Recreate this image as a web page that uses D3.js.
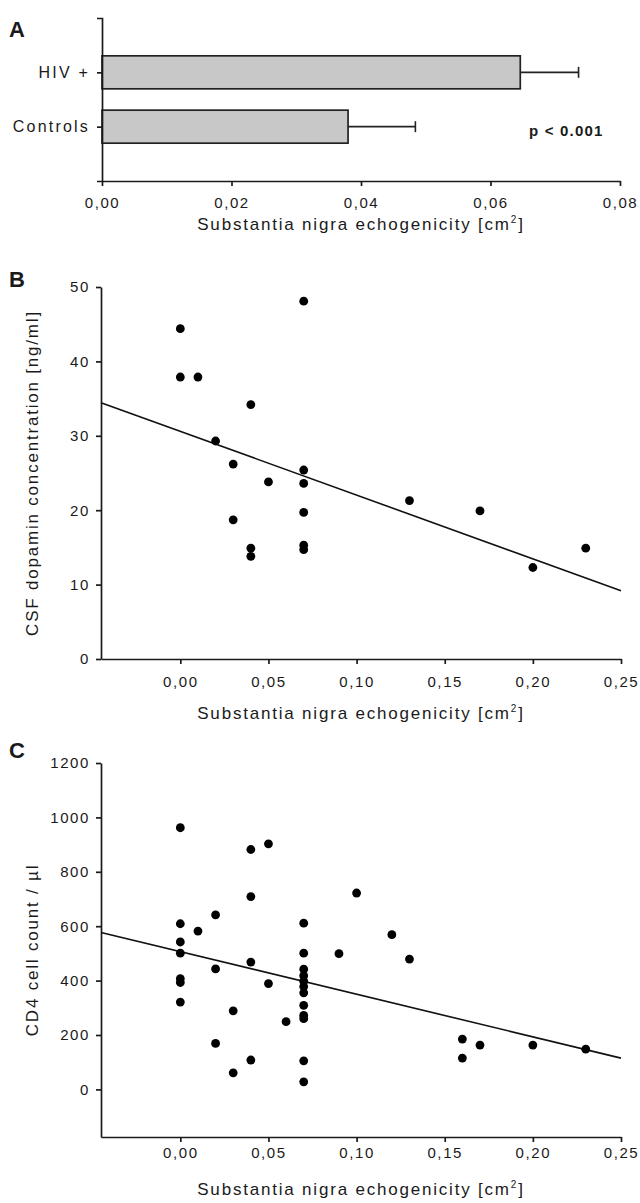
<!DOCTYPE html>
<meta charset="utf-8">
<script src="https://cdn.jsdelivr.net/npm/d3@7/dist/d3.min.js"></script>
<style type="text/css">
    body { margin: 0; background: #fff; }
    text { font-family: "Liberation Sans", Arial, sans-serif; fill: #1a1a1a; }
    .axis path, .axis line { fill: none; stroke: #1a1a1a; stroke-width: 1.7px; }
    .axis text { font-size: 15px; letter-spacing: 1.6px; }
    .title { font-size: 17px; letter-spacing: 1.8px; }
    .panel { font-size: 22px; font-weight: bold; }
</style>
<body>
<script>
    // panel A: group means with error bars
    var groups = ["HIV +", "Controls"];
    var groupMeans = [0.0646, 0.0380];
    var groupErrors = [0.0090, 0.0104];
    var ticksA = [0, 0.02, 0.04, 0.06, 0.08];

    // panel B: CSF dopamine vs echogenicity
    var dopaX = [0.00, 0.00, 0.01, 0.02, 0.03, 0.03, 0.04, 0.04, 0.04, 0.05,
                 0.07, 0.07, 0.07, 0.07, 0.07, 0.07, 0.13, 0.17, 0.20, 0.23];
    var dopaY = [44.4, 37.9, 37.9, 29.3, 26.2, 18.7, 34.2, 14.9, 13.8, 23.8,
                 48.1, 25.4, 23.6, 19.7, 15.3, 14.7, 21.3, 19.9, 12.3, 14.9];
    var dopaFit = {intercept: 30.6, slope: -85.7};
    var ticksBy = [0, 10, 20, 30, 40, 50];

    // panel C: CD4 count vs echogenicity
    var cd4X = [0.00, 0.00, 0.00, 0.00, 0.00, 0.00, 0.00, 0.01, 0.02, 0.02, 0.02,
                0.03, 0.03, 0.04, 0.04, 0.04, 0.04, 0.05, 0.05, 0.06,
                0.07, 0.07, 0.07, 0.07, 0.07, 0.07, 0.07, 0.07, 0.07, 0.07, 0.07, 0.07,
                0.09, 0.10, 0.12, 0.13, 0.16, 0.16, 0.17, 0.20, 0.23];
    var cd4Y = [962, 609, 542, 501, 407, 393, 321, 582, 642, 443, 169,
                289, 61, 882, 709, 468, 108, 903, 389, 249,
                611, 501, 442, 418, 398, 378, 355, 309, 272, 260, 105, 28,
                499, 722, 569, 479, 185, 115, 163, 163, 148];
    var cd4Fit = {intercept: 506.5, slope: -1566};
    var ticksCy = [0, 200, 400, 600, 800, 1000, 1200];

    var ticksX = [0, 0.05, 0.10, 0.15, 0.20, 0.25];
    var fmt = function(d) { return d3.format(".2f")(d).replace(".", ","); };

    var svg = d3.select("body").append("svg")
        .attr("width", 640)
        .attr("height", 1203);

    function xTitle(y) {
        var t = svg.append("text")
            .attr("class", "title")
            .attr("x", 361)
            .attr("y", y)
            .attr("text-anchor", "middle")
            .text("Substantia nigra echogenicity [cm");
        t.append("tspan").attr("dy", -7).style("font-size", "10px").text("2");
        t.append("tspan").attr("dy", 7).text("]");
    }

    function yTitle(cy, label) {
        svg.append("text")
            .attr("class", "title")
            .attr("transform", "translate(38," + cy + ") rotate(-90)")
            .attr("text-anchor", "middle")
            .text(label);
    }

    function panelLetter(letter, y) {
        svg.append("text").attr("class", "panel")
            .attr("x", 9).attr("y", y).text(letter);
    }

    // ---------- A ----------
    var xA = d3.scaleLinear().domain([0, 0.08]).range([102, 620]);
    var yA = d3.scalePoint().domain(groups).range([18, 181]).padding(1);
    var barH = 33;

    svg.selectAll(".bar")
        .data(groups)
        .enter()
        .append("rect")
        .attr("class", "bar")
        .attr("x", xA(0))
        .attr("y", function(d) { return yA(d) - barH / 2; })
        .attr("width", function(d, i) { return xA(groupMeans[i]) - xA(0); })
        .attr("height", barH)
        .style("fill", "#c8c8c8")
        .style("stroke", "#222")
        .style("stroke-width", 1.7);

    groups.forEach(function(g, i) {
        var y = yA(g);
        svg.append("line")
            .attr("x1", xA(groupMeans[i])).attr("x2", xA(groupMeans[i] + groupErrors[i]))
            .attr("y1", y).attr("y2", y)
            .style("stroke", "#222").style("stroke-width", 1.6);
        svg.append("line")
            .attr("x1", xA(groupMeans[i] + groupErrors[i])).attr("x2", xA(groupMeans[i] + groupErrors[i]))
            .attr("y1", y - 5.5).attr("y2", y + 5.5)
            .style("stroke", "#222").style("stroke-width", 1.6);
    });

    svg.append("g")
        .attr("class", "axis")
        .attr("transform", "translate(0,181)")
        .call(d3.axisBottom(xA).tickValues(ticksA).tickFormat(fmt)
            .tickSize(5).tickSizeOuter(0).tickPadding(11));

    svg.append("g")
        .attr("class", "axis")
        .attr("transform", "translate(102,0)")
        .call(d3.axisLeft(yA).tickSize(5).tickSizeOuter(5).tickPadding(7))
        .selectAll("text").style("font-size", "16px").style("letter-spacing", "2.2px");

    svg.append("text")
        .attr("x", 529).attr("y", 136)
        .style("font-size", "15px").style("font-weight", "bold").style("letter-spacing", "1.2px")
        .text("p < 0.001");

    xTitle(230);
    panelLetter("A", 37);

    // ---------- B ----------
    var xB = d3.scaleLinear().domain([-0.045, 0.25]).range([101, 621]);
    var yB = d3.scaleLinear().domain([0, 50]).range([659, 287]);

    svg.append("g")
        .attr("class", "axis")
        .attr("transform", "translate(0,659)")
        .call(d3.axisBottom(xB).tickValues(ticksX).tickFormat(fmt)
            .tickSize(5).tickSizeOuter(0).tickPadding(12));

    svg.append("g")
        .attr("class", "axis")
        .attr("transform", "translate(101,0)")
        .call(d3.axisLeft(yB).tickValues(ticksBy).tickFormat(d3.format("d"))
            .tickSize(5).tickSizeOuter(0).tickPadding(6));

    svg.append("line")
        .attr("x1", xB(-0.045)).attr("y1", yB(dopaFit.intercept + dopaFit.slope * -0.045))
        .attr("x2", xB(0.25)).attr("y2", yB(dopaFit.intercept + dopaFit.slope * 0.25))
        .style("stroke", "#111").style("stroke-width", 1.6);

    svg.selectAll(".dotB")
        .data(dopaX)
        .enter()
        .append("circle")
        .attr("class", "dotB")
        .attr("cx", function(d) { return xB(d); })
        .attr("cy", function(d, i) { return yB(dopaY[i]); })
        .attr("r", 4.4)
        .style("fill", "#000");

    xTitle(719);
    yTitle(473, "CSF dopamin concentration [ng/ml]");
    panelLetter("B", 287);

    // ---------- C ----------
    var xC = d3.scaleLinear().domain([-0.045, 0.25]).range([101, 621]);
    var yC = d3.scaleLinear().domain([-175, 1200]).range([1137, 763]);

    svg.append("g")
        .attr("class", "axis")
        .attr("transform", "translate(0,1137)")
        .call(d3.axisBottom(xC).tickValues(ticksX).tickFormat(fmt)
            .tickSize(5).tickSizeOuter(0).tickPadding(5));

    svg.append("g")
        .attr("class", "axis")
        .attr("transform", "translate(101,0)")
        .call(d3.axisLeft(yC).tickValues(ticksCy).tickFormat(d3.format("d"))
            .tickSize(5).tickSizeOuter(0).tickPadding(6));

    svg.append("line")
        .attr("x1", xC(-0.045)).attr("y1", yC(cd4Fit.intercept + cd4Fit.slope * -0.045))
        .attr("x2", xC(0.25)).attr("y2", yC(cd4Fit.intercept + cd4Fit.slope * 0.25))
        .style("stroke", "#111").style("stroke-width", 1.6);

    svg.selectAll(".dotC")
        .data(cd4X)
        .enter()
        .append("circle")
        .attr("class", "dotC")
        .attr("cx", function(d) { return xC(d); })
        .attr("cy", function(d, i) { return yC(cd4Y[i]); })
        .attr("r", 4.4)
        .style("fill", "#000");

    xTitle(1195);
    yTitle(950, "CD4 cell count / \u00b5l");
    panelLetter("C", 758);
</script>
</body>
